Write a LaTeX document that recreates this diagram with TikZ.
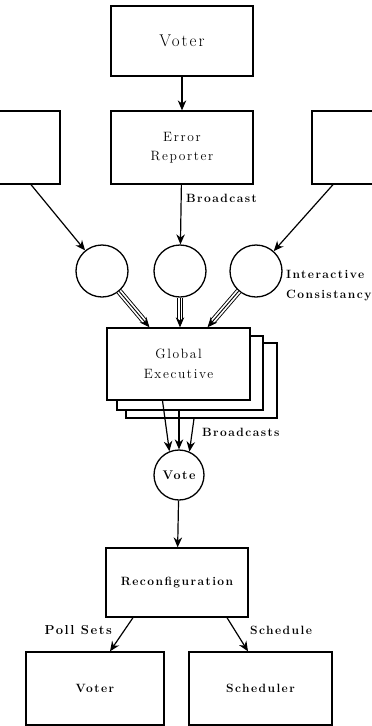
\documentclass[tikz,border=0pt]{standalone}
\usepackage{fontspec}
\setmainfont{Latin Modern Roman}[LetterSpace=12]
\usetikzlibrary{arrows.meta,calc}
% text in the given size and line spacing
\newcommand{\sizedfont}[2]{\fontsize{#1}{#2}\selectfont}
\tikzset{
  box/.style={draw, line width=1.3pt, fill=white, inner sep=0pt, align=center},
  bub/.style={draw, circle, line width=1.3pt, fill=white, inner sep=0pt, minimum size=52pt},
  lbl/.style={inner sep=0pt, font=\bfseries\sizedfont{12}{20}},
  arr/.style={-{Stealth[length=10pt,width=8.5pt]}, line width=1.2pt},
  triple/.style={line width=0.9pt, double, double distance=4.4pt, shorten >=8pt},
}
\begin{document}
\begin{tikzpicture}[x=1pt,y=-1pt]
\useasboundingbox (0,0) rectangle (372,726);
\clip (0,0) rectangle (372,726);

% top row
\node[box, minimum width=142pt, minimum height=70pt, font=\sizedfont{17}{20}] (vtop) at (182,41) {Voter};
\node[box, minimum width=142pt, minimum height=73pt, font=\sizedfont{13.5}{19}] (er) at (182,147.5) {Error\\Reporter};
\node[box, minimum width=100pt, minimum height=73pt] (lbox) at (10,147.5) {};
\node[box, minimum width=100pt, minimum height=73pt] (rbox) at (362,147.5) {};

% interactive consistency stage
\node[bub] (c1) at (102,271) {};
\node[bub] (c2) at (180,271) {};
\node[bub] (c3) at (256,271) {};

% stacked global executives
\node[box, minimum width=151pt, minimum height=75pt] (ge3) at (201.5,380.5) {};
\node[box, minimum width=146pt, minimum height=74pt] (ge2) at (190,373) {};
\node[box, minimum width=143pt, minimum height=72pt, font=\sizedfont{13.5}{20}] (ge) at (178.5,364) {Global\\Executive};

\node[bub, minimum size=50pt, font=\bfseries\sizedfont{12.5}{14}] (vote) at (179,475) {Vote};

\node[box, minimum width=142pt, minimum height=69pt, font=\bfseries\sizedfont{12}{14}] (reconf) at (177,582.5) {Reconfiguration};
\node[box, minimum width=138pt, minimum height=73pt, font=\bfseries\sizedfont{12}{14}] (voterb) at (95,688.5) {Voter};
\node[box, minimum width=143pt, minimum height=73pt, font=\bfseries\sizedfont{12}{14}] (sched) at (260.5,688.5) {Scheduler};

% labels
\node[lbl, anchor=west] (bc) at (186,198) {Broadcast};
\node[lbl, anchor=west, align=left] (ic) at (286,286) {Interactive\\Consistancy};
\node[lbl, anchor=west] (bcs) at (202,432) {Broadcasts};
\node[lbl, anchor=east, font=\bfseries\sizedfont{13}{20}] (ps) at (112,630) {Poll Sets};
\node[lbl, anchor=west] (sc) at (250,630) {Schedule};

% connectors
\draw[arr] (vtop) -- (er);
\draw[arr] (er) -- (c2);
\draw[arr] ($(lbox.south)+(21,0)$) -- (c1);
\draw[arr] ($(rbox.south)+(-29,0)$) -- (c3);

\draw[triple] (c1) -- ($(ge.north)+(-29,0)$);
\draw[arr, line width=0.9pt] (c1) -- ($(ge.north)+(-29,0)$);
\draw[triple] (c2) -- ($(ge.north)+(1.5,0)$);
\draw[arr, line width=0.9pt] (c2) -- ($(ge.north)+(1.5,0)$);
\draw[triple] (c3) -- ($(ge.north)+(29,0)$);
\draw[arr, line width=0.9pt] (c3) -- ($(ge.north)+(29,0)$);

\draw[arr] ($(ge.south)+(-16,0)$) -- (vote.112);
\draw[arr] ($(ge2.south)+(-11,0)$) -- (vote.90);
\draw[arr] ($(ge3.south)+(-7.5,0)$) -- (vote.66);

\draw[arr] (vote) -- (reconf);
\draw[arr] ($(reconf.south)+(-44,0)$) -- ($(voterb.north)+(15,0)$);
\draw[arr] ($(reconf.south)+(50,0)$) -- ($(sched.north)+(-12.5,0)$);
\end{tikzpicture}
\end{document}
